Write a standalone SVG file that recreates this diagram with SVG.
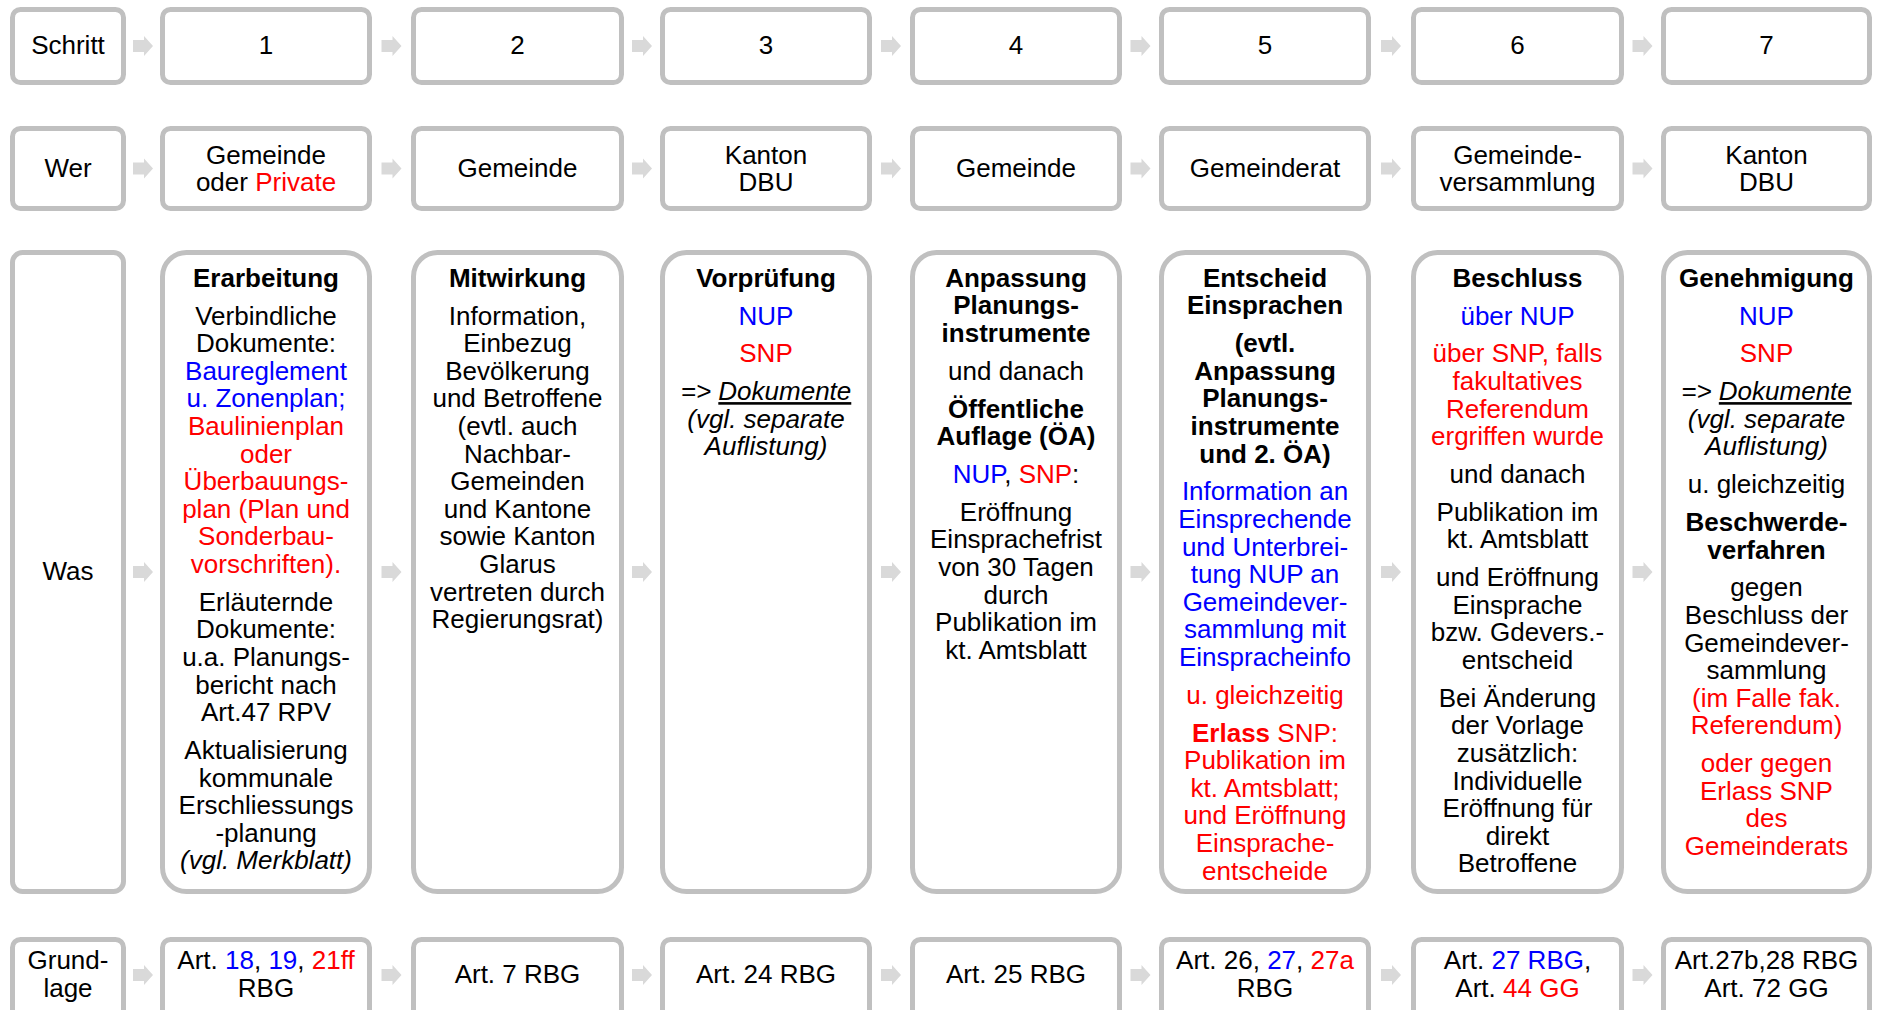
<svg xmlns="http://www.w3.org/2000/svg" xmlns:xlink="http://www.w3.org/1999/xlink" width="1878" height="1010" viewBox="0 0 1878 1010">
<style>
.box{fill:#fff;stroke:#c0c0c0;stroke-width:5}
text{font-family:"Liberation Sans",Arial,Helvetica,sans-serif;font-size:26px;text-anchor:middle;fill:#000}
.b{font-weight:bold}
.i{font-style:italic}
.u{text-decoration:underline}
.bl{fill:#0000ff}
.rd{fill:#ff0000}
.arr{fill:#d9d9d9}
</style>
<defs>
<path id="arrow" class="arr" d="M-10,-6 H1 V-10 L10,0 L1,10 V6 H-10 Z"/>
</defs>
<rect width="1878" height="1010" fill="#fff"/>

<g id="connectors">
<use href="#arrow" x="143" y="46"/><use href="#arrow" x="391.5" y="46"/><use href="#arrow" x="642" y="46"/><use href="#arrow" x="891" y="46"/><use href="#arrow" x="1140.5" y="46"/><use href="#arrow" x="1391" y="46"/><use href="#arrow" x="1642.5" y="46"/>
<use href="#arrow" x="143" y="168.5"/><use href="#arrow" x="391.5" y="168.5"/><use href="#arrow" x="642" y="168.5"/><use href="#arrow" x="891" y="168.5"/><use href="#arrow" x="1140.5" y="168.5"/><use href="#arrow" x="1391" y="168.5"/><use href="#arrow" x="1642.5" y="168.5"/>
<use href="#arrow" x="143" y="572"/><use href="#arrow" x="391.5" y="572"/><use href="#arrow" x="642" y="572"/><use href="#arrow" x="891" y="572"/><use href="#arrow" x="1140.5" y="572"/><use href="#arrow" x="1391" y="572"/><use href="#arrow" x="1642.5" y="572"/>
<use href="#arrow" x="143" y="975"/><use href="#arrow" x="391.5" y="975"/><use href="#arrow" x="642" y="975"/><use href="#arrow" x="891" y="975"/><use href="#arrow" x="1140.5" y="975"/><use href="#arrow" x="1391" y="975"/><use href="#arrow" x="1642.5" y="975"/>
</g>

<!-- Row 1: Schritt -->
<g id="schritt-label"><rect class="box" x="12.5" y="9.5" width="111" height="73" rx="8"/><text x="68" y="54">Schritt</text></g>
<g id="schritt-1"><rect class="box" x="162.5" y="9.5" width="207" height="73" rx="8"/><text x="266" y="54">1</text></g>
<g id="schritt-2"><rect class="box" x="413.5" y="9.5" width="208" height="73" rx="8"/><text x="517.5" y="54">2</text></g>
<g id="schritt-3"><rect class="box" x="662.5" y="9.5" width="207" height="73" rx="8"/><text x="766" y="54">3</text></g>
<g id="schritt-4"><rect class="box" x="912.5" y="9.5" width="207" height="73" rx="8"/><text x="1016" y="54">4</text></g>
<g id="schritt-5"><rect class="box" x="1161.5" y="9.5" width="207" height="73" rx="8"/><text x="1265" y="54">5</text></g>
<g id="schritt-6"><rect class="box" x="1413.5" y="9.5" width="208" height="73" rx="8"/><text x="1517.5" y="54">6</text></g>
<g id="schritt-7"><rect class="box" x="1663.5" y="9.5" width="206" height="73" rx="8"/><text x="1766.5" y="54">7</text></g>

<!-- Row 2: Wer -->
<g id="wer-label"><rect class="box" x="12.5" y="128.5" width="111" height="80" rx="8"/><text x="68" y="177">Wer</text></g>
<g id="wer-1"><rect class="box" x="162.5" y="128.5" width="207" height="80" rx="8"/><text x="266" y="164">Gemeinde</text><text x="266" y="191">oder <tspan class="rd">Private</tspan></text></g>
<g id="wer-2"><rect class="box" x="413.5" y="128.5" width="208" height="80" rx="8"/><text x="517.5" y="177">Gemeinde</text></g>
<g id="wer-3"><rect class="box" x="662.5" y="128.5" width="207" height="80" rx="8"/><text x="766" y="164">Kanton</text><text x="766" y="191">DBU</text></g>
<g id="wer-4"><rect class="box" x="912.5" y="128.5" width="207" height="80" rx="8"/><text x="1016" y="177">Gemeinde</text></g>
<g id="wer-5"><rect class="box" x="1161.5" y="128.5" width="207" height="80" rx="8"/><text x="1265" y="177">Gemeinderat</text></g>
<g id="wer-6"><rect class="box" x="1413.5" y="128.5" width="208" height="80" rx="8"/><text x="1517.5" y="164">Gemeinde-</text><text x="1517.5" y="191">versammlung</text></g>
<g id="wer-7"><rect class="box" x="1663.5" y="128.5" width="206" height="80" rx="8"/><text x="1766.5" y="164">Kanton</text><text x="1766.5" y="191">DBU</text></g>

<!-- Row 3: Was -->
<g id="was-label"><rect class="box" x="12.5" y="252.5" width="111" height="639" rx="10"/><text x="68" y="580">Was</text></g>

<g id="was-1"><rect class="box" x="162.5" y="252.5" width="207" height="639" rx="24"/>
<text x="266" y="286.7" class="b">Erarbeitung</text>
<text x="266" y="324.5">Verbindliche</text>
<text x="266" y="352.1">Dokumente:</text>
<text x="266" y="379.7" class="bl">Baureglement</text>
<text x="266" y="407.3" class="bl">u. Zonenplan;</text>
<text x="266" y="434.9" class="rd">Baulinienplan</text>
<text x="266" y="462.5" class="rd">oder</text>
<text x="266" y="490.1" class="rd">Überbauungs-</text>
<text x="266" y="517.7" class="rd">plan (Plan und</text>
<text x="266" y="545.3" class="rd">Sonderbau-</text>
<text x="266" y="572.9" class="rd">vorschriften).</text>
<text x="266" y="610.7">Erläuternde</text>
<text x="266" y="638.3">Dokumente:</text>
<text x="266" y="665.9">u.a. Planungs-</text>
<text x="266" y="693.5">bericht nach</text>
<text x="266" y="721.1">Art.47 RPV</text>
<text x="266" y="758.9">Aktualisierung</text>
<text x="266" y="786.5">kommunale</text>
<text x="266" y="814.1">Erschliessungs</text>
<text x="266" y="841.7">-planung</text>
<text x="266" y="869.3" class="i">(vgl. Merkblatt)</text>
</g>

<g id="was-2"><rect class="box" x="413.5" y="252.5" width="208" height="639" rx="24"/>
<text x="517.5" y="286.7" class="b">Mitwirkung</text>
<text x="517.5" y="324.5">Information,</text>
<text x="517.5" y="352.1">Einbezug</text>
<text x="517.5" y="379.7">Bevölkerung</text>
<text x="517.5" y="407.3">und Betroffene</text>
<text x="517.5" y="434.9">(evtl. auch</text>
<text x="517.5" y="462.5">Nachbar-</text>
<text x="517.5" y="490.1">Gemeinden</text>
<text x="517.5" y="517.7">und Kantone</text>
<text x="517.5" y="545.3">sowie Kanton</text>
<text x="517.5" y="572.9">Glarus</text>
<text x="517.5" y="600.5">vertreten durch</text>
<text x="517.5" y="628.1">Regierungsrat)</text>
</g>

<g id="was-3"><rect class="box" x="662.5" y="252.5" width="207" height="639" rx="24"/>
<text x="766" y="286.7" class="b">Vorprüfung</text>
<text x="766" y="324.5" class="bl">NUP</text>
<text x="766" y="362.3" class="rd">SNP</text>
<text x="766" y="400.1" class="i">=&gt; <tspan class="u">Dokumente</tspan></text>
<text x="766" y="427.7" class="i">(vgl. separate</text>
<text x="766" y="455.3" class="i">Auflistung)</text>
</g>

<g id="was-4"><rect class="box" x="912.5" y="252.5" width="207" height="639" rx="24"/>
<text x="1016" y="286.7" class="b">Anpassung</text>
<text x="1016" y="314.3" class="b">Planungs-</text>
<text x="1016" y="341.9" class="b">instrumente</text>
<text x="1016" y="379.7">und danach</text>
<text x="1016" y="417.5" class="b">Öffentliche</text>
<text x="1016" y="445.1" class="b">Auflage (ÖA)</text>
<text x="1016" y="482.9"><tspan class="bl">NUP</tspan>, <tspan class="rd">SNP</tspan>:</text>
<text x="1016" y="520.7">Eröffnung</text>
<text x="1016" y="548.3">Einsprachefrist</text>
<text x="1016" y="575.9">von 30 Tagen</text>
<text x="1016" y="603.5">durch</text>
<text x="1016" y="631.1">Publikation im</text>
<text x="1016" y="658.7">kt. Amtsblatt</text>
</g>

<g id="was-5"><rect class="box" x="1161.5" y="252.5" width="207" height="639" rx="24"/>
<text x="1265" y="286.7" class="b">Entscheid</text>
<text x="1265" y="314.3" class="b">Einsprachen</text>
<text x="1265" y="352.1" class="b">(evtl.</text>
<text x="1265" y="379.7" class="b">Anpassung</text>
<text x="1265" y="407.3" class="b">Planungs-</text>
<text x="1265" y="434.9" class="b">instrumente</text>
<text x="1265" y="462.5" class="b">und 2. ÖA)</text>
<text x="1265" y="500.3" class="bl">Information an</text>
<text x="1265" y="527.9" class="bl">Einsprechende</text>
<text x="1265" y="555.5" class="bl">und Unterbrei-</text>
<text x="1265" y="583.1" class="bl">tung NUP an</text>
<text x="1265" y="610.7" class="bl">Gemeindever-</text>
<text x="1265" y="638.3" class="bl">sammlung mit</text>
<text x="1265" y="665.9" class="bl">Einspracheinfo</text>
<text x="1265" y="703.7" class="rd">u. gleichzeitig</text>
<text x="1265" y="741.5" class="rd"><tspan class="b">Erlass</tspan> SNP:</text>
<text x="1265" y="769.1" class="rd">Publikation im</text>
<text x="1265" y="796.7" class="rd">kt. Amtsblatt;</text>
<text x="1265" y="824.3" class="rd">und Eröffnung</text>
<text x="1265" y="851.9" class="rd">Einsprache-</text>
<text x="1265" y="879.5" class="rd">entscheide</text>
</g>

<g id="was-6"><rect class="box" x="1413.5" y="252.5" width="208" height="639" rx="24"/>
<text x="1517.5" y="286.7" class="b">Beschluss</text>
<text x="1517.5" y="324.5" class="bl">über NUP</text>
<text x="1517.5" y="362.3" class="rd">über SNP, falls</text>
<text x="1517.5" y="389.9" class="rd">fakultatives</text>
<text x="1517.5" y="417.5" class="rd">Referendum</text>
<text x="1517.5" y="445.1" class="rd">ergriffen wurde</text>
<text x="1517.5" y="482.9">und danach</text>
<text x="1517.5" y="520.7">Publikation im</text>
<text x="1517.5" y="548.3">kt. Amtsblatt</text>
<text x="1517.5" y="586.1">und Eröffnung</text>
<text x="1517.5" y="613.7">Einsprache</text>
<text x="1517.5" y="641.3">bzw. Gdevers.-</text>
<text x="1517.5" y="668.9">entscheid</text>
<text x="1517.5" y="706.7">Bei Änderung</text>
<text x="1517.5" y="734.3">der Vorlage</text>
<text x="1517.5" y="761.9">zusätzlich:</text>
<text x="1517.5" y="789.5">Individuelle</text>
<text x="1517.5" y="817.1">Eröffnung für</text>
<text x="1517.5" y="844.7">direkt</text>
<text x="1517.5" y="872.3">Betroffene</text>
</g>

<g id="was-7"><rect class="box" x="1663.5" y="252.5" width="206" height="639" rx="24"/>
<text x="1766.5" y="286.7" class="b">Genehmigung</text>
<text x="1766.5" y="324.5" class="bl">NUP</text>
<text x="1766.5" y="362.3" class="rd">SNP</text>
<text x="1766.5" y="400.1" class="i">=&gt; <tspan class="u">Dokumente</tspan></text>
<text x="1766.5" y="427.7" class="i">(vgl. separate</text>
<text x="1766.5" y="455.3" class="i">Auflistung)</text>
<text x="1766.5" y="493.1">u. gleichzeitig</text>
<text x="1766.5" y="530.9" class="b">Beschwerde-</text>
<text x="1766.5" y="558.5" class="b">verfahren</text>
<text x="1766.5" y="596.3">gegen</text>
<text x="1766.5" y="623.9">Beschluss der</text>
<text x="1766.5" y="651.5">Gemeindever-</text>
<text x="1766.5" y="679.1">sammlung</text>
<text x="1766.5" y="706.7" class="rd">(im Falle fak.</text>
<text x="1766.5" y="734.3" class="rd">Referendum)</text>
<text x="1766.5" y="772.1" class="rd">oder gegen</text>
<text x="1766.5" y="799.7" class="rd">Erlass SNP</text>
<text x="1766.5" y="827.3" class="rd">des</text>
<text x="1766.5" y="854.9" class="rd">Gemeinderats</text>
</g>

<!-- Row 4: Grundlage -->
<g id="grundlage-label"><rect class="box" x="12.5" y="939.5" width="111" height="80" rx="8"/><text x="68" y="969">Grund-</text><text x="68" y="996.5">lage</text></g>
<g id="grundlage-1"><rect class="box" x="162.5" y="939.5" width="207" height="80" rx="8"/><text x="266" y="969">Art. <tspan class="bl">18</tspan>, <tspan class="bl">19</tspan>, <tspan class="rd">21ff</tspan></text><text x="266" y="996.5">RBG</text></g>
<g id="grundlage-2"><rect class="box" x="413.5" y="939.5" width="208" height="80" rx="8"/><text x="517.5" y="983">Art. 7 RBG</text></g>
<g id="grundlage-3"><rect class="box" x="662.5" y="939.5" width="207" height="80" rx="8"/><text x="766" y="983">Art. 24 RBG</text></g>
<g id="grundlage-4"><rect class="box" x="912.5" y="939.5" width="207" height="80" rx="8"/><text x="1016" y="983">Art. 25 RBG</text></g>
<g id="grundlage-5"><rect class="box" x="1161.5" y="939.5" width="207" height="80" rx="8"/><text x="1265" y="969">Art. 26, <tspan class="bl">27</tspan>, <tspan class="rd">27a</tspan></text><text x="1265" y="996.5">RBG</text></g>
<g id="grundlage-6"><rect class="box" x="1413.5" y="939.5" width="208" height="80" rx="8"/><text x="1517.5" y="969">Art. <tspan class="bl">27 RBG</tspan>,</text><text x="1517.5" y="996.5">Art. <tspan class="rd">44 GG</tspan></text></g>
<g id="grundlage-7"><rect class="box" x="1663.5" y="939.5" width="206" height="80" rx="8"/><text x="1766.5" y="969">Art.27b,28 RBG</text><text x="1766.5" y="996.5">Art. 72 GG</text></g>
</svg>
